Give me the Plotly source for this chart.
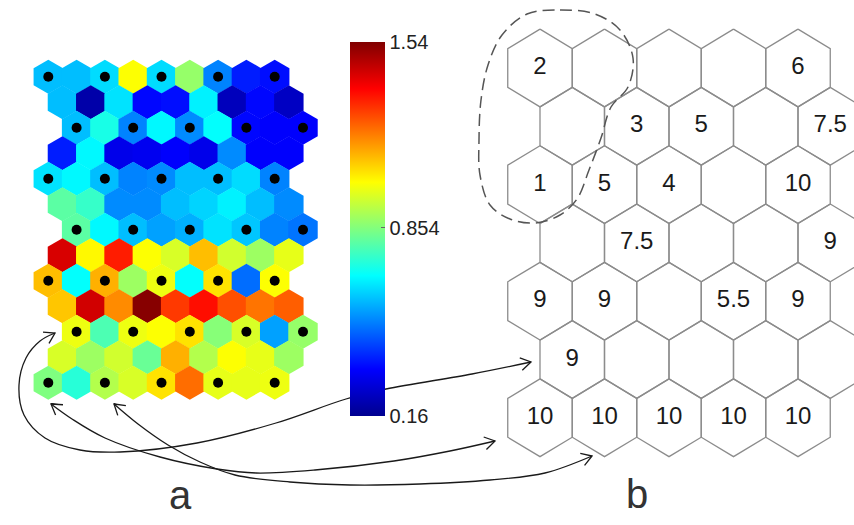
import numpy as np
import plotly.graph_objects as go

# ---------------- data ----------------
# U-matrix values (13 rows x 9 columns), panel a
umat = [
    [0.59, 0.59, 0.63, 1.02, 0.63, 0.88, 0.51, 0.37, 0.35],
    [0.59, 0.20, 0.64, 0.34, 0.35, 0.66, 0.23, 0.34, 0.24],
    [0.59, 0.71, 0.51, 0.67, 0.52, 0.68, 0.34, 0.33, 0.33],
    [0.37, 0.67, 0.30, 0.31, 0.33, 0.30, 0.52, 0.33, 0.33],
    [0.64, 0.67, 0.59, 0.51, 0.52, 0.59, 0.59, 0.63, 0.51],
    [0.80, 0.75, 0.52, 0.52, 0.59, 0.62, 0.66, 0.59, 0.52],
    [0.80, 0.67, 0.59, 0.55, 0.57, 0.64, 0.60, 0.51, 0.49],
    [1.42, 1.03, 1.33, 1.02, 0.97, 1.11, 0.96, 0.89, 0.99],
    [1.11, 0.68, 1.13, 0.89, 1.00, 0.68, 1.06, 0.48, 1.02],
    [1.10, 1.43, 1.18, 1.53, 1.29, 1.35, 1.26, 1.21, 1.24],
    [1.00, 0.78, 1.00, 1.02, 1.06, 0.86, 0.97, 0.55, 0.88],
    [0.97, 0.89, 0.96, 0.82, 1.13, 0.92, 1.02, 0.99, 0.89],
    [0.85, 0.73, 0.92, 0.97, 1.06, 1.22, 0.99, 0.99, 1.00],
]
cbar_min, cbar_max = 0.16, 1.54
cbar_tickvals = [0.16, 0.854, 1.54]
cbar_ticktext = ["0.16", "0.854", "1.54"]

# map-unit labels (7 rows x 5 columns), panel b
labels_b = [
    ["2", "", "", "", "6"],
    ["", "3", "5", "", "7.5"],
    ["1", "5", "4", "", "10"],
    ["", "7.5", "", "", "9"],
    ["9", "9", "", "5.5", "9"],
    ["9", "", "", "", ""],
    ["10", "10", "10", "10", "10"],
]
panel_labels = ["a", "b"]

# ---------------- styling / layout helpers ----------------
W, H = 854, 525
FONT = "Liberation Sans, Arial, Helvetica, sans-serif"
jet = [[0.0, "rgb(0,0,143)"], [0.125, "rgb(0,0,255)"], [0.375, "rgb(0,255,255)"],
       [0.625, "rgb(255,255,0)"], [0.875, "rgb(255,0,0)"], [1.0, "rgb(128,0,0)"]]
umat_shift = [0.0, 0.5, 1.0, 0.5]   # hexaU row offsets


def dom_x(p0, p1):
    return [p0 / W, p1 / W]


def dom_y(p0, p1):  # pixel top, pixel bottom
    return [1 - p1 / H, 1 - p0 / H]


fig = go.Figure()

# ---- panel a : U-matrix hexagons ----
hx, hy, hv = [], [], []
for r, row in enumerate(umat):
    for c, v in enumerate(row):
        hx.append(c + umat_shift[r % 4])
        hy.append(r)
        hv.append(v)
fig.add_trace(go.Scatter(
    x=hx, y=hy, mode="markers", xaxis="x", yaxis="y", hoverinfo="skip",
    marker=dict(symbol="hexagon", size=34, color=hv, colorscale=jet,
                cmin=cbar_min, cmax=cbar_max, line=dict(width=0),
                colorbar=dict(x=350 / W, xanchor="left", xpad=0,
                              y=1 - 42 / H, yanchor="top", ypad=0,
                              len=374, lenmode="pixels",
                              thickness=35, thicknessmode="pixels",
                              tickvals=cbar_tickvals, ticktext=cbar_ticktext,
                              ticks="inside", ticklen=4, tickcolor="#666",
                              tickfont=dict(size=20, family=FONT, color="#222"),
                              outlinewidth=0)),
    showlegend=False))

# unit positions (black dots): even umat rows and columns
dx = [hx[i] for i in range(len(hx)) if hy[i] % 2 == 0 and (i % 9) % 2 == 0]
dy = [hy[i] for i in range(len(hx)) if hy[i] % 2 == 0 and (i % 9) % 2 == 0]
fig.add_trace(go.Scatter(x=dx, y=dy, mode="markers", xaxis="x", yaxis="y",
                         hoverinfo="skip", showlegend=False,
                         marker=dict(size=10, color="black", line=dict(width=0))))

# ---- panel b : hexagonal grid with labels ----
offs = [(0, -2 / 3), (0.5, -1 / 3), (0.5, 1 / 3), (0, 2 / 3), (-0.5, 1 / 3), (-0.5, -1 / 3), (0, -2 / 3)]
gx, gy, tx, ty, tt = [], [], [], [], []
for r, row in enumerate(labels_b):
    for c, lab in enumerate(row):
        cx, cy = c + 0.5 * (r % 2), r
        for ox, oy in offs:
            gx.append(cx + ox)
            gy.append(cy + oy)
        gx.append(None)
        gy.append(None)
        if lab:
            tx.append(cx)
            ty.append(cy)
            tt.append(lab)
fig.add_trace(go.Scatter(x=gx, y=gy, mode="lines", xaxis="x2", yaxis="y2",
                         hoverinfo="skip", showlegend=False,
                         line=dict(color="#8c8c8c", width=1.3)))
fig.add_trace(go.Scatter(x=tx, y=ty, mode="text", text=tt, xaxis="x2", yaxis="y2",
                         hoverinfo="skip", showlegend=False,
                         textfont=dict(size=24, family=FONT, color="#1a1a1a")))

# ---- overlay (pixel space) : arrows and dashed outline ----
arrows = [
    [(55, 333), (40, 341), (26, 358), (19, 385), (24, 415), (45, 438), (80, 450),
     (120, 452), (197, 443), (276, 423), (346, 399), (386, 389), (472, 374), (531, 362)],
    [(51, 404), (72, 419), (105, 438), (160, 457), (217, 469), (256, 473), (315, 470),
     (394, 461), (450, 451), (495, 441)],
    [(114, 404), (138, 424), (168, 445), (200, 462), (235, 475), (290, 482), (350, 485),
     (420, 484), (490, 480), (545, 473), (592, 456)],
]
for pts in arrows:
    px = [p[0] for p in pts]
    py = [p[1] for p in pts]
    fig.add_trace(go.Scatter(x=px, y=py, mode="lines", xaxis="x3", yaxis="y3",
                             hoverinfo="skip", showlegend=False,
                             line=dict(color="#1a1a1a", width=1.3, shape="spline")))
    # open arrowheads at both ends
    for tip, prev in ((pts[0], pts[1]), (pts[-1], pts[-2])):
        d = np.array(tip, float) - np.array(prev, float)
        d /= np.linalg.norm(d)
        ax_, ay_ = [], []
        for ang in (np.radians(32), -np.radians(32)):
            rot = np.array([[np.cos(ang), -np.sin(ang)], [np.sin(ang), np.cos(ang)]])
            b = np.array(tip, float) - 12 * rot.dot(d)
            ax_ += [b[0], tip[0]]
            ay_ += [b[1], tip[1]]
        fig.add_trace(go.Scatter(x=ax_, y=ay_, mode="lines", xaxis="x3", yaxis="y3",
                                 hoverinfo="skip", showlegend=False,
                                 line=dict(color="#1a1a1a", width=1.3)))

outline = [(527, 14), (560, 10), (595, 14), (620, 30), (633, 58), (628, 87), (611, 107),
           (601, 138), (589, 170), (577, 199), (560, 215), (535, 223), (510, 219),
           (490, 205), (480, 175), (479, 140), (481, 100), (488, 65), (502, 35), (527, 14)]
fig.add_trace(go.Scatter(x=[p[0] for p in outline], y=[p[1] for p in outline],
                         mode="lines", xaxis="x3", yaxis="y3", hoverinfo="skip",
                         showlegend=False,
                         line=dict(color="#555555", width=1.5, dash="12px,6px", shape="spline")))

# ---------------- layout ----------------
hidden = dict(visible=False, showgrid=False, zeroline=False, fixedrange=True)
# panel a: umat units -> 28.3 px per column, 25.5 px per row, origin (48.3, 76.7)
ax0, ay0, adx, ady = 48.3, 76.7, 28.3, 25.5
# panel b: map units -> 64.5 px per column, 58.3 px per row, origin (540, 68)
bx0, by0, bdx, bdy = 540.0, 68.0, 64.5, 58.3

fig.update_layout(
    width=W, height=H, margin=dict(l=0, r=0, t=0, b=0),
    paper_bgcolor="white", plot_bgcolor="rgba(0,0,0,0)",
    xaxis=dict(hidden, domain=dom_x(20, 330), range=[(20 - ax0) / adx, (330 - ax0) / adx]),
    yaxis=dict(hidden, domain=dom_y(40, 420), range=[(420 - ay0) / ady, (40 - ay0) / ady]),
    xaxis2=dict(hidden, domain=dom_x(470, 854), range=[(470 - bx0) / bdx, (854 - bx0) / bdx]),
    yaxis2=dict(hidden, domain=dom_y(0, 470), range=[(470 - by0) / bdy, (0 - by0) / bdy]),
    xaxis3=dict(hidden, domain=[0, 1], range=[0, W]),
    yaxis3=dict(hidden, domain=[0, 1], range=[H, 0]),
    annotations=[
        dict(text=panel_labels[0], x=180 / W, y=1 - 519 / H, xref="paper", yref="paper",
             xanchor="center", yanchor="bottom",
             showarrow=False, font=dict(size=40, family=FONT, color="#333")),
        dict(text=panel_labels[1], x=637 / W, y=1 - 518 / H, xref="paper", yref="paper",
             xanchor="center", yanchor="bottom",
             showarrow=False, font=dict(size=40, family=FONT, color="#333")),
    ],
)

fig.write_html("out.html", config={"displayModeBar": False},
               post_script="document.body.style.margin='0px';")
